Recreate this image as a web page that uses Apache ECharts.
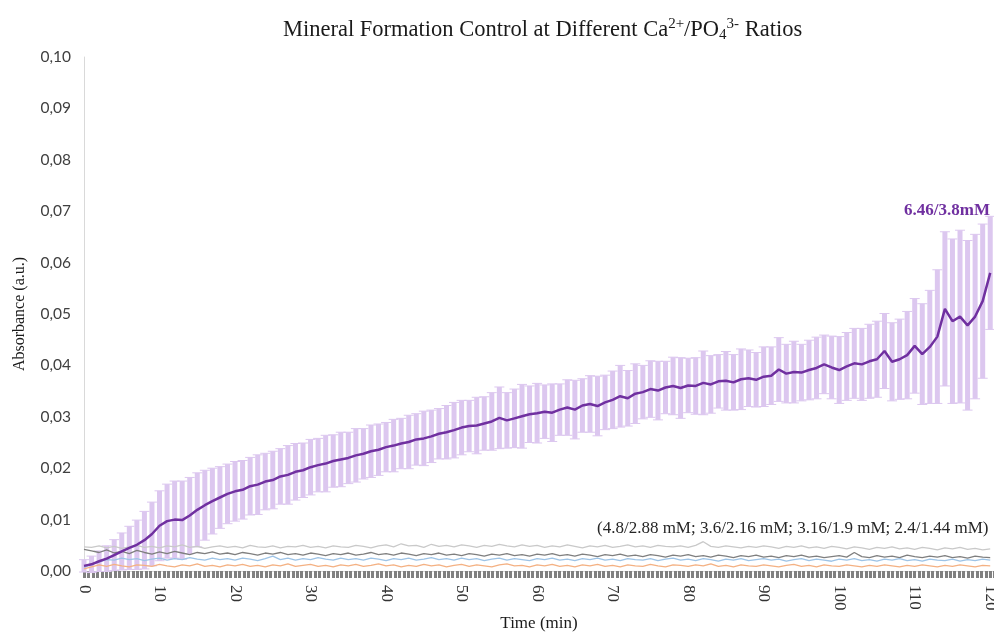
<!DOCTYPE html>
<html>
<head>
<meta charset="utf-8">
<script src="https://cdn.jsdelivr.net/npm/echarts@6/dist/echarts.min.js"></script>
<style>
html, body { margin: 0; padding: 0; background: #fff; }
#chart { width: 994px; height: 632px; }
</style>
</head>
<body>
<div id="chart"></div>
<script>
// time axis, one reading per minute
var minutes = [];
for (var m = 0; m <= 120; m++) { minutes.push(m); }

// 6.46/3.8 mM - mean absorbance
var highMean = [
.0010,.0013,.0019,.0024,.0031,.0038,.0045,.0051,.0060,.0072,
.0088,.0097,.0100,.0099,.0108,.0119,.0128,.0136,.0143,.0150,
.0155,.0158,.0165,.0168,.0174,.0177,.0184,.0187,.0193,.0196,
.0202,.0206,.0209,.0214,.0217,.0220,.0225,.0228,.0233,.0236,
.0241,.0244,.0248,.0251,.0256,.0258,.0262,.0267,.0270,.0274,
.0279,.0282,.0283,.0287,.0291,.0298,.0293,.0297,.0301,.0305,
.0307,.0310,.0308,.0314,.0318,.0314,.0322,.0325,.0321,.0328,
.0333,.0340,.0336,.0345,.0348,.0354,.0351,.0357,.0360,.0356,
.0361,.0360,.0366,.0363,.0369,.0370,.0367,.0373,.0375,.0372,
.0378,.0380,.0392,.0384,.0387,.0386,.0391,.0395,.0402,.0396,
.0391,.0398,.0404,.0402,.0408,.0412,.0428,.0407,.0412,.0420,
.0438,.0422,.0436,.0456,.0510,.0486,.0495,.0478,.0495,.0525,
.0580];

// 6.46/3.8 mM - error (+/-)
var highErr = [
.0012,.0016,.0020,.0025,.0030,.0036,.0042,.0048,.0056,.0062,
.0068,.0072,.0075,.0076,.0074,.0072,.0068,.0064,.0060,.0058,
.0058,.0057,.0056,.0058,.0055,.0056,.0054,.0057,.0055,.0053,
.0054,.0052,.0055,.0051,.0053,.0050,.0052,.0049,.0051,.0050,
.0048,.0051,.0049,.0052,.0050,.0053,.0051,.0049,.0052,.0054,
.0053,.0050,.0055,.0052,.0056,.0060,.0054,.0057,.0062,.0055,
.0058,.0052,.0056,.0050,.0054,.0057,.0052,.0055,.0058,.0053,
.0056,.0060,.0054,.0058,.0052,.0055,.0057,.0051,.0056,.0059,
.0053,.0055,.0062,.0056,.0052,.0057,.0054,.0059,.0055,.0053,
.0058,.0056,.0062,.0057,.0060,.0055,.0058,.0060,.0057,.0061,
.0065,.0066,.0068,.0070,.0072,.0074,.0073,.0076,.0078,.0085,
.0092,.0098,.0110,.0130,.0150,.0160,.0168,.0165,.0160,.0150,
.0110];

// 4.8/2.88 mM
var lineA = [
.0047,.0046,.0049,.0045,.0048,.0044,.0047,.0050,.0046,.0048,
.0045,.0049,.0047,.0051,.0046,.0048,.0044,.0047,.0049,.0046,
.0048,.0045,.0050,.0047,.0046,.0049,.0045,.0048,.0047,.0050,
.0046,.0048,.0045,.0049,.0047,.0046,.0050,.0048,.0045,.0049,
.0051,.0047,.0053,.0049,.0050,.0046,.0052,.0048,.0050,.0047,
.0051,.0049,.0046,.0050,.0048,.0052,.0049,.0047,.0051,.0048,
.0050,.0046,.0049,.0047,.0051,.0048,.0045,.0049,.0047,.0050,
.0046,.0048,.0051,.0047,.0049,.0046,.0050,.0048,.0047,.0049,
.0046,.0050,.0057,.0048,.0046,.0049,.0047,.0045,.0048,.0046,
.0049,.0047,.0044,.0048,.0046,.0049,.0045,.0047,.0044,.0048,
.0046,.0043,.0047,.0045,.0042,.0046,.0044,.0047,.0043,.0045,
.0042,.0046,.0044,.0041,.0045,.0043,.0046,.0042,.0044,.0041,
.0043];

// 3.6/2.16 mM
var lineB = [
.0042,.0039,.0036,.0041,.0035,.0038,.0034,.0040,.0036,.0033,
.0037,.0034,.0038,.0035,.0032,.0036,.0034,.0037,.0033,.0035,
.0032,.0036,.0034,.0031,.0035,.0033,.0036,.0032,.0034,.0031,
.0035,.0033,.0030,.0034,.0032,.0035,.0031,.0033,.0036,.0032,
.0034,.0031,.0035,.0033,.0030,.0034,.0032,.0035,.0031,.0033,
.0030,.0034,.0032,.0029,.0033,.0031,.0034,.0030,.0032,.0029,
.0033,.0031,.0034,.0030,.0032,.0029,.0033,.0031,.0028,.0032,
.0030,.0033,.0029,.0031,.0028,.0032,.0030,.0027,.0031,.0029,
.0032,.0028,.0030,.0027,.0031,.0029,.0026,.0030,.0028,.0031,
.0027,.0029,.0026,.0030,.0028,.0031,.0027,.0029,.0026,.0028,
.0030,.0027,.0036,.0028,.0026,.0030,.0027,.0029,.0026,.0031,
.0028,.0026,.0029,.0027,.0030,.0026,.0028,.0025,.0029,.0027,
.0026];

// 3.16/1.9 mM
var lineC = [
.0007,.0013,.0018,.0022,.0021,.0025,.0022,.0024,.0020,.0023,
.0025,.0021,.0024,.0022,.0026,.0023,.0021,.0025,.0022,.0024,
.0021,.0025,.0023,.0020,.0024,.0029,.0022,.0025,.0021,.0024,
.0022,.0026,.0023,.0021,.0025,.0022,.0024,.0021,.0025,.0023,
.0020,.0024,.0022,.0025,.0021,.0023,.0026,.0022,.0024,.0021,
.0025,.0022,.0024,.0020,.0023,.0025,.0021,.0024,.0022,.0020,
.0024,.0022,.0025,.0021,.0023,.0020,.0024,.0022,.0025,.0021,
.0023,.0020,.0024,.0022,.0021,.0024,.0020,.0023,.0025,.0021,
.0023,.0020,.0024,.0022,.0019,.0023,.0021,.0024,.0020,.0022,
.0024,.0021,.0023,.0019,.0022,.0024,.0020,.0023,.0021,.0019,
.0023,.0021,.0024,.0020,.0022,.0019,.0023,.0021,.0024,.0020,
.0022,.0019,.0023,.0021,.0020,.0023,.0019,.0022,.0020,.0023,
.0021];

// 2.4/1.44 mM
var lineD = [
.0004,.0008,.0012,.0009,.0013,.0010,.0008,.0012,.0011,.0009,
.0013,.0010,.0008,.0012,.0010,.0014,.0009,.0011,.0008,.0012,
.0010,.0013,.0009,.0011,.0008,.0012,.0010,.0014,.0009,.0011,
.0013,.0009,.0011,.0008,.0012,.0010,.0013,.0009,.0011,.0014,
.0010,.0012,.0008,.0011,.0009,.0013,.0010,.0012,.0008,.0011,
.0013,.0009,.0012,.0010,.0008,.0012,.0014,.0010,.0011,.0008,
.0012,.0010,.0013,.0009,.0011,.0008,.0012,.0010,.0013,.0009,
.0011,.0008,.0012,.0010,.0009,.0013,.0010,.0008,.0012,.0011,
.0009,.0012,.0010,.0014,.0009,.0011,.0008,.0012,.0010,.0009,
.0012,.0010,.0008,.0011,.0013,.0009,.0011,.0008,.0012,.0010,
.0009,.0012,.0010,.0008,.0011,.0009,.0012,.0010,.0008,.0011,
.0009,.0012,.0010,.0008,.0011,.0009,.0012,.0010,.0008,.0011,
.0010];

var serif = '"Liberation Serif", "Times New Roman", serif';
var purple = '#7030a0';
var lavender = '#dcc7ef';

function pairs(vals) {
	var out = [];
	for (var i = 0; i < vals.length; i++) { out.push([minutes[i], vals[i]]); }
	return out;
}

var errData = [];
for (var i = 0; i < minutes.length; i++) {
	errData.push([minutes[i], highMean[i] - highErr[i], highMean[i] + highErr[i]]);
}

function renderErr(params, api) {
	var top = api.coord([api.value(0), api.value(2)]);
	var bot = api.coord([api.value(0), api.value(1)]);
	var w = 5;
	return {
		type: 'group',
		children: [
			{ type: 'line', shape: { x1: top[0], y1: top[1], x2: bot[0], y2: bot[1] }, style: { stroke: lavender, lineWidth: 5 } },
			{ type: 'line', shape: { x1: top[0] - w, y1: top[1], x2: top[0] + w, y2: top[1] }, style: { stroke: lavender, lineWidth: 1 } },
			{ type: 'line', shape: { x1: bot[0] - w, y1: bot[1], x2: bot[0] + w, y2: bot[1] }, style: { stroke: lavender, lineWidth: 1 } }
		]
	};
}

function thinLine(name, vals, color) {
	return {
		name: name, type: 'line', data: pairs(vals), showSymbol: false, z: 3,
		lineStyle: { color: color, width: 1.3 }
	};
}

var chart = echarts.init(document.getElementById('chart'));
var option = {
	animation: false,
	title: {
		text: 'Mineral Formation Control at Different Ca{sup|2+}/PO{sub|4}{sup|3-} Ratios',
		left: 278, top: 12,
		textStyle: {
			fontFamily: serif, fontSize: 22.5, fontWeight: 'normal', color: '#1a1a1a',
			rich: {
				sup: { fontFamily: serif, fontSize: 15, color: '#1a1a1a', padding: [0, 0, 11, 0] },
				sub: { fontFamily: serif, fontSize: 15, color: '#1a1a1a', padding: [11, 0, 0, 0] }
			}
		}
	},
	grid: { left: 84, right: 0, top: 57, bottom: 61, outerBoundsMode: 'none' },
	xAxis: {
		type: 'value', min: 0, max: 120.5, interval: 10,
		name: 'Time (min)', nameLocation: 'middle', nameGap: 44, nameMoveOverlap: false,
		nameTextStyle: { fontFamily: serif, fontSize: 17, color: '#1a1a1a', verticalAlign: 'top' },
		axisLine: { show: true, lineStyle: { color: '#d9d9d9' } },
		axisTick: { show: true, length: 7, lineStyle: { color: '#808080', width: 3 } },
		minorTick: { show: true, splitNumber: 17, length: 7, lineStyle: { color: '#808080', width: 3 } },
		axisLabel: { rotate: -90, margin: 14, fontFamily: serif, fontSize: 17, color: '#333' },
		splitLine: { show: false }
	},
	yAxis: {
		type: 'value', min: 0, max: 0.1, interval: 0.01,
		name: 'Absorbance (a.u.)', nameLocation: 'middle', nameGap: 56,
		nameTextStyle: { fontFamily: serif, fontSize: 16, color: '#1a1a1a' },
		axisLine: { show: true, lineStyle: { color: '#d9d9d9' } },
		axisTick: { show: false },
		axisLabel: {
			margin: 13, fontFamily: 'Lato, "Open Sans", sans-serif', fontSize: 15.5, color: '#404040',
			formatter: function (v) { return v.toFixed(2).replace('.', ','); }
		},
		splitLine: { show: false }
	},
	series: [
		{ name: 'err', type: 'custom', data: errData, renderItem: renderErr, z: 1, silent: true },
		thinLine('4.8/2.88 mM', lineA, '#c9c9c9'),
		thinLine('3.6/2.16 mM', lineB, '#7f7f7f'),
		thinLine('3.16/1.9 mM', lineC, '#9dc3e6'),
		thinLine('2.4/1.44 mM', lineD, '#f4b183'),
		{
			name: '6.46/3.8mM', type: 'line', data: pairs(highMean), showSymbol: false, z: 5,
			lineStyle: { color: purple, width: 2.5 }
		}
	],
	graphic: [
		{
			type: 'text', right: 4, top: 202,
			style: { text: '6.46/3.8mM', fill: purple, font: 'bold 17px ' + serif }
		},
		{
			type: 'text', left: 597, top: 520,
			style: { text: '(4.8/2.88 mM; 3.6/2.16 mM; 3.16/1.9 mM; 2.4/1.44 mM)', fill: '#262626', font: '17px ' + serif }
		}
	]
};
chart.setOption(option);
</script>
</body>
</html>
